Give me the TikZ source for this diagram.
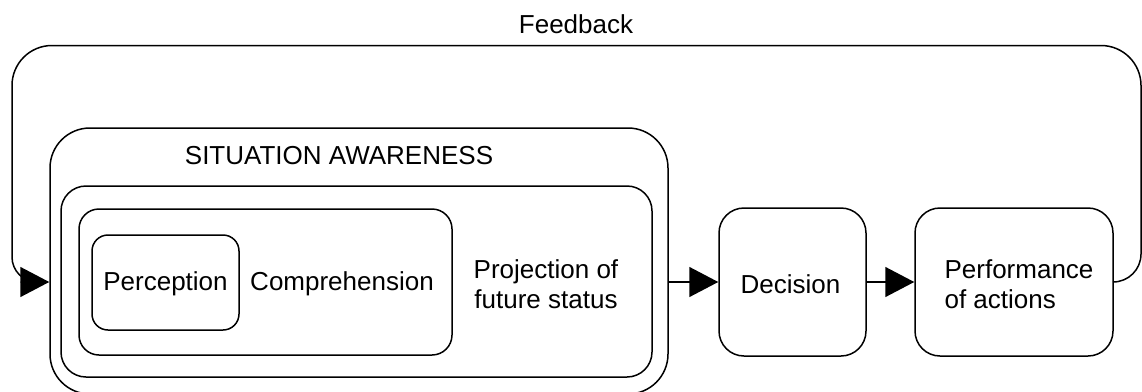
\documentclass[tikz,border=0pt]{standalone}
\usepackage{fontspec}
\setmainfont{Liberation Sans}
\usetikzlibrary{arrows.meta}
\tikzset{
  box/.style={draw, line width=1.5pt, inner sep=0pt, anchor=center},
  lbl/.style={inner sep=0pt, font=\fontsize{26}{30}\selectfont, align=center},
  conn/.style={line width=1.5pt, -{Triangle[length=29pt,width=30pt]}},
}
\begin{document}
\begin{tikzpicture}[x=1pt,y=-1pt]
\clip (0,0) rectangle (1142,391);
\fill[white] (0,0) rectangle (1142,391);
% boxes
\node[box, rounded corners=40pt, minimum width=618pt, minimum height=266pt] (sa) at (359,261) {};
\node[box, rounded corners=25pt, minimum width=591pt, minimum height=191pt] (proj) at (356.5,281.5) {};
\node[box, rounded corners=20pt, minimum width=373pt, minimum height=146pt] (comp) at (265.5,282) {};
\node[box, rounded corners=16pt, minimum width=147pt, minimum height=95pt] (perc) at (165.5,282.5) {};
\node[box, rounded corners=25pt, minimum width=147pt, minimum height=148pt] (dec) at (792.5,282) {};
\node[box, rounded corners=25pt, minimum width=198pt, minimum height=148pt] (perf) at (1014,282) {};
% labels
\node[lbl] (salbl) at (339,156) {SITUATION AWARENESS};
\node[lbl] (perclbl) at (165.5,284) {Perception};
\node[lbl] (complbl) at (342,284) {Comprehension};
\node[lbl] (projlbl) at (546,284) {Projection of\\future status};
\node[lbl] (declbl) at (790.5,284) {Decision};
\node[lbl, align=left] (perflbl) at (1019,284) {Performance\\of actions};
\node[lbl] (fblbl) at (576,24) {Feedback};
% connectors
\draw[conn] (sa.east |- dec.west) -- (dec.west);
\draw[conn] (dec.east) -- (perf.west);
\draw[conn, rounded corners=28pt] (perf.east) -- (1141,282) [rounded corners=40pt] -- (1141,45.5) -- (12,45.5) [rounded corners=25pt] -- (12,282) -- (sa.west |- dec.west);
\end{tikzpicture}
\end{document}
